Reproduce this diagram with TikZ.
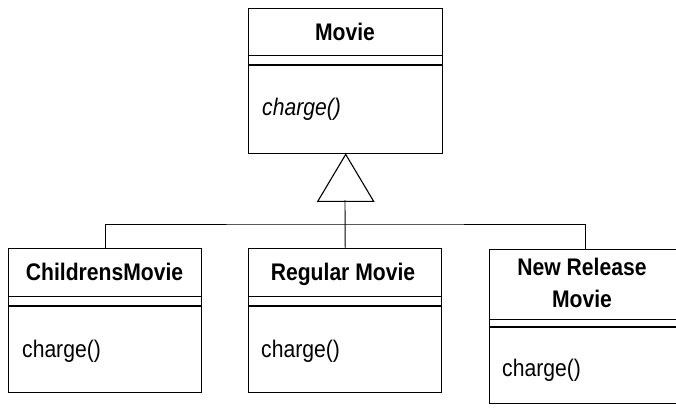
\documentclass[tikz,border=0pt]{standalone}
\usepackage{fontspec}
\setmainfont{Liberation Sans}[FakeStretch=0.88]
\begin{document}
\begin{tikzpicture}[x=1pt,y=-1pt,
  box/.style={draw, line width=1.4pt, inner sep=0pt, anchor=north west},
  septhin/.style={line width=1pt},
  septhick/.style={line width=2.2pt},
  conn/.style={line width=0.9pt},
  ttl/.style={font=\fontsize{24}{31}\selectfont\bfseries, anchor=base, inner sep=0pt, align=center},
  meth/.style={font=\fontsize{24}{31}\selectfont, anchor=base west, inner sep=0pt}]
\useasboundingbox (0,0) rectangle (676,414);
% Movie
\node[box, minimum width=194pt, minimum height=145pt] (movie) at (248,8) {};
\draw[septhin] (248,56) -- (442,56);
\draw[septhick] (248,65) -- (442,65);
\node[ttl] (movieT) at (345,40.5) {Movie};
\node[meth, font=\fontsize{24}{31}\selectfont\itshape] (movieM) at (262,116) {charge()};
% Childrens
\node[box, minimum width=193pt, minimum height=144pt] (child) at (8,248) {};
\draw[septhin] (8,296) -- (201,296);
\draw[septhick] (8,306) -- (201,306);
\node[ttl] (childT) at (104.5,280) {ChildrensMovie};
\node[meth] (childM) at (22,357) {charge()};
% Regular
\node[box, minimum width=193pt, minimum height=144pt] (reg) at (248,248) {};
\draw[septhin] (248,296) -- (441,296);
\draw[septhick] (248,306) -- (441,306);
\node[ttl] (regT) at (343,280) {Regular Movie};
\node[meth] (regM) at (261,357) {charge()};
% New Release
\node[box, minimum width=192pt, minimum height=154pt] (newr) at (489,249) {};
\draw[septhin] (489,319) -- (681,319);
\draw[septhick] (489,327) -- (681,327);
\node[ttl] (newrT1) at (582,275) {New Release};
\node[ttl] (newrT2) at (582,307) {Movie};
\node[meth] (newrM) at (502,376) {charge()};
% Generalization
\coordinate (tri) at (345,200);
\draw[conn, line width=1.1pt] (movie.south) -- ++(-28,47) -- ++(56,0) -- cycle;
\coordinate (bus) at (345,224);
\draw[conn] (tri) -- (reg.north);
\draw[conn] (child.north) |- (bus) -| (newr.north);
\end{tikzpicture}
\end{document}
